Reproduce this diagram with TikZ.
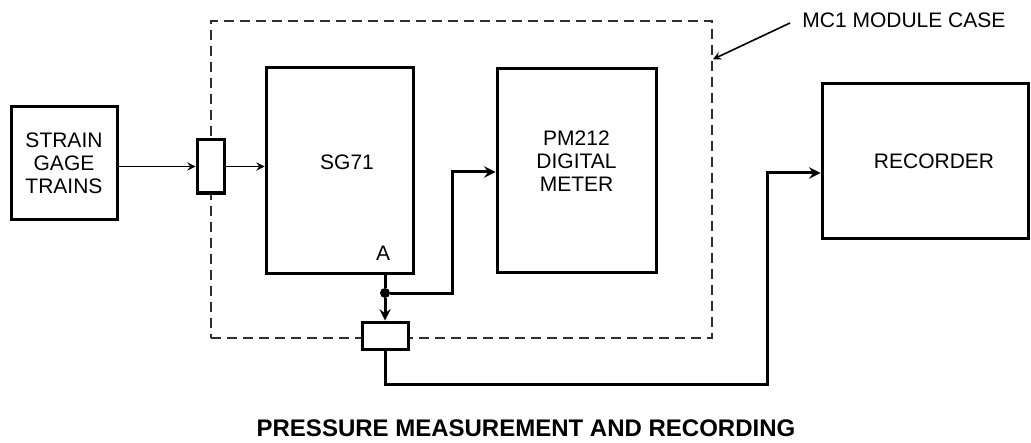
\documentclass[tikz,border=0pt]{standalone}
\usepackage{fontspec}
\setmainfont{Liberation Sans}
\usepackage{tikz}
\usetikzlibrary{arrows,positioning,calc}
\definecolor{casegray}{RGB}{45,45,45}

\begin{document}
\begin{tikzpicture}[
    x=0.5pt, y=-0.5pt,
    txt/.style={font=\fontsize{10.5}{11.5}\selectfont, align=center},
    every label/.style={txt, inner sep=0pt},
    box/.style={rectangle, draw, line width=1.5pt, fill=white, inner sep=0pt, txt},
    term/.style={rectangle, draw, line width=1.5pt, fill=white, inner sep=0pt},
    caseline/.style={rectangle, draw=casegray, line width=1pt, dash pattern=on 5pt off 3pt},
    thinarrow/.style={->, >=stealth, line width=0.8pt},
    arrow/.style={->, >=stealth, line width=1.5pt},
    wire/.style={line width=1.5pt}
]
\useasboundingbox (0,0) rectangle (1031,443);

% Module case (dashed)
\node[caseline, minimum width=250.5pt, minimum height=158.5pt] (case) at (461.5,179.5) {};
\node[txt, anchor=west, inner sep=0pt] (mctext) at (802,20) {MC1 MODULE CASE};
\draw[thinarrow] ([xshift=-6pt,yshift=-1.5pt]mctext.west) -- ($(case.north east)!0.123!(case.south east)$);

% Blocks
\node[box, minimum width=53pt, minimum height=56pt] (strain) at (64,163) {STRAIN\\GAGE\\TRAINS};
\node[term, minimum width=13.5pt, minimum height=26.5pt] (termA) at (210.5,166.5) {};
\node[box, minimum width=73.5pt, minimum height=102.5pt,
      label={[xshift=3.75pt, yshift=4.25pt]center:SG71}] (sg) at (339.5,170.5) {};
\node[txt] (ptA) at (383,253) {A};
\node[box, minimum width=79.5pt, minimum height=101.5pt,
      label={[yshift=4.75pt]center:PM212\\DIGITAL\\METER}] (pm) at (576.5,170.5) {};
\node[box, minimum width=103pt, minimum height=77pt,
      label={[xshift=4.5pt]center:RECORDER}] (rec) at (925,161) {};
\node[term, minimum width=23pt, minimum height=13.5pt] (termB) at (385,335.5) {};

% Junction below SG71
\node[circle, fill, inner sep=0pt, minimum size=5pt] (j) at (385,293) {};

% Signal path
\draw[thinarrow] (strain.east |- termA.west) -- (termA.west);
\draw[thinarrow] (termA.east) -- (termA.east -| sg.west);
\draw[wire] (sg.south -| j) -- (j);
\draw[arrow] (j) -- ++(67,0) |- ([yshift=-0.75pt]pm.west);
\draw[arrow] (j) -- (termB.north);
\draw[arrow] (termB.south) -- ++(0,34) -- ++(382,0) |- ([yshift=-6pt]rec.west);

% Title
\node[font=\fontsize{12}{14}\selectfont\bfseries] (title) at (526,428) {PRESSURE MEASUREMENT AND RECORDING};

\end{tikzpicture}
\end{document}
